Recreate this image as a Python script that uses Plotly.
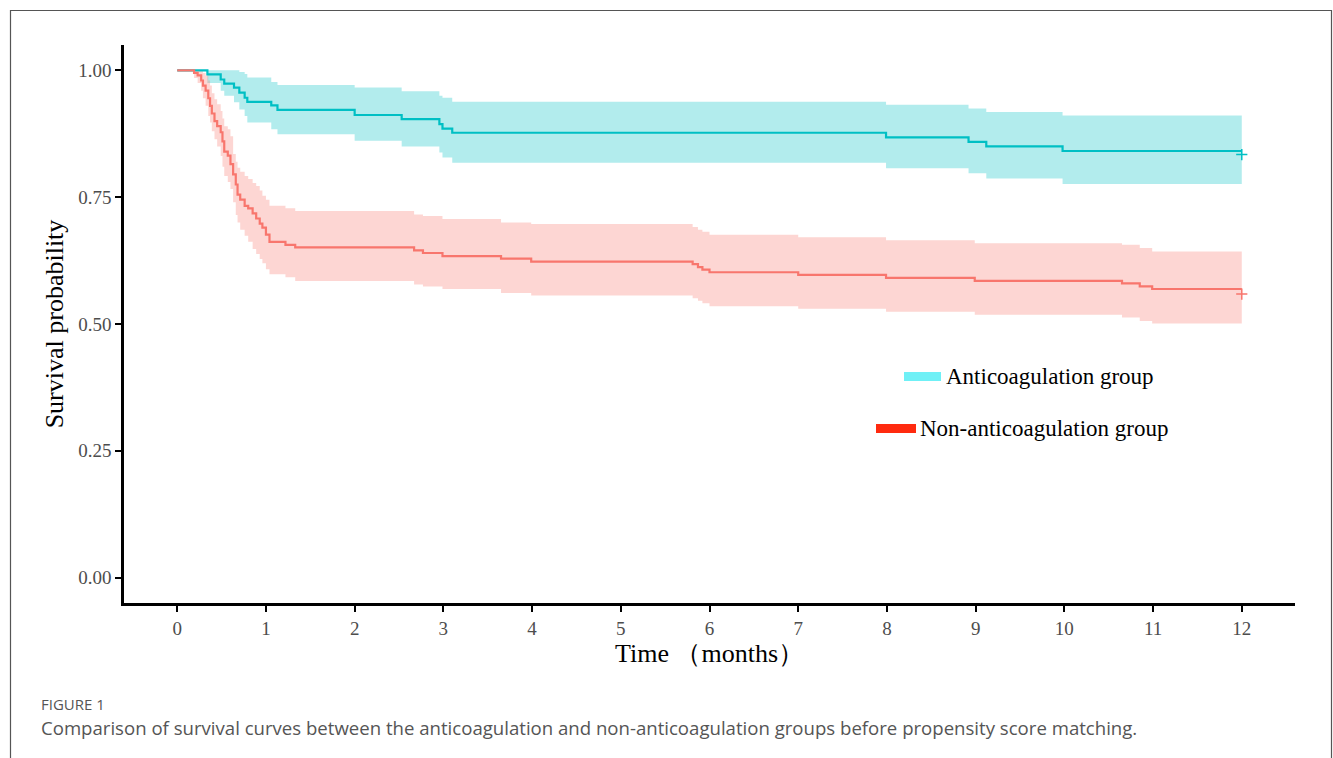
import plotly.graph_objects as go

# ---------------- data ----------------
anti_time = [0, 0.34, 0.49, 0.53, 0.64, 0.70, 0.76, 0.79, 1.06, 1.13, 2.0, 2.53,
             2.955, 2.99, 3.10, 7.99, 8.92, 9.12, 9.98]
anti_surv = [1.0, 0.992, 0.982, 0.974, 0.966, 0.956, 0.946, 0.938, 0.931, 0.922,
             0.912, 0.904, 0.894, 0.885, 0.877, 0.868, 0.859, 0.850, 0.841]
anti_upper = [1.0, 1.0, 1.0, 1.0, 1.0, 0.997, 0.993, 0.986, 0.977, 0.971,
              0.966, 0.959, 0.950, 0.946, 0.938, 0.932, 0.925, 0.918, 0.911]
anti_lower = [1.0, 0.975, 0.960, 0.950, 0.937, 0.923, 0.910, 0.897, 0.884, 0.874,
              0.861, 0.850, 0.838, 0.828, 0.818, 0.807, 0.797, 0.787, 0.776]

non_time = [0, 0.19, 0.23, 0.27, 0.29, 0.32, 0.35, 0.37, 0.39, 0.42,
            0.45, 0.49, 0.51, 0.53, 0.57, 0.60, 0.63, 0.66, 0.68, 0.71,
            0.76, 0.80, 0.85, 0.89, 0.93, 0.96, 1.00, 1.04, 1.22, 1.33,
            2.67, 2.77, 2.99, 3.65, 3.99, 5.81, 5.87, 5.92, 6.00, 7.00,
            7.99, 8.99, 10.65, 10.85, 10.99]
non_surv = [1.0, 0.995, 0.99, 0.98, 0.97, 0.96, 0.945, 0.93, 0.915, 0.90,
            0.89, 0.878, 0.86, 0.84, 0.832, 0.815, 0.795, 0.775, 0.755, 0.745,
            0.733, 0.728, 0.718, 0.708, 0.698, 0.69, 0.676, 0.662, 0.656, 0.651,
            0.645, 0.640, 0.634, 0.629, 0.623, 0.618, 0.612, 0.607, 0.602, 0.597,
            0.591, 0.585, 0.580, 0.574, 0.569]
non_upper = [1.0, 1.0, 1.0, 1.0, 0.995, 0.99, 0.98, 0.97, 0.955, 0.943,
             0.933, 0.92, 0.905, 0.89, 0.884, 0.87, 0.835, 0.82, 0.808, 0.80,
             0.792, 0.786, 0.778, 0.772, 0.763, 0.753, 0.745, 0.733, 0.728, 0.723,
             0.716, 0.713, 0.707, 0.700, 0.697, 0.691, 0.686, 0.682, 0.676, 0.671,
             0.665, 0.659, 0.656, 0.650, 0.643]
non_lower = [1.0, 0.985, 0.975, 0.96, 0.945, 0.93, 0.91, 0.897, 0.88, 0.864,
             0.85, 0.831, 0.81, 0.792, 0.78, 0.766, 0.74, 0.715, 0.70, 0.686,
             0.674, 0.662, 0.648, 0.638, 0.628, 0.62, 0.608, 0.598, 0.592, 0.585,
             0.578, 0.574, 0.569, 0.561, 0.556, 0.551, 0.546, 0.541, 0.535, 0.530,
             0.524, 0.518, 0.513, 0.506, 0.501]

end_time = 12
censor_time = [12, 12]
censor_surv = [0.834, 0.559]

x_ticks = list(range(0, 13))
y_ticks = [0.0, 0.25, 0.5, 0.75, 1.0]
y_tick_labels = ["0.00", "0.25", "0.50", "0.75", "1.00"]

legend_labels = ["Anticoagulation group", "Non-anticoagulation group"]
x_title = "Time \uff08months\uff09"
y_title = "Survival probability"
fig_label = "FIGURE 1"
caption = ("Comparison of survival curves between the anticoagulation and "
           "non-anticoagulation groups before propensity score matching.")

# ---------------- figure ----------------
W, H = 1333, 758
L, R, T, B = 124, 38, 45, 155
PW, PH = W - L - R, H - T - B


def px(x):
    return (x - L) / PW


def py(y):
    return (H - B - y) / PH


def ext(v):
    return v + [v[-1]]


CYAN, CYAN_FILL = "#00BFC4", "rgba(0,191,196,0.30)"
RED, RED_FILL = "#F8766D", "rgba(248,118,109,0.30)"

fig = go.Figure()
for t, s, lo, up, col, fillc in [
    (anti_time, anti_surv, anti_lower, anti_upper, CYAN, CYAN_FILL),
    (non_time, non_surv, non_lower, non_upper, RED, RED_FILL),
]:
    xs = t + [end_time]
    fig.add_trace(go.Scatter(x=xs, y=ext(lo), mode="lines", line=dict(width=0, shape="hv"),
                             showlegend=False, hoverinfo="skip"))
    fig.add_trace(go.Scatter(x=xs, y=ext(up), mode="lines", line=dict(width=0, shape="hv"),
                             fill="tonexty", fillcolor=fillc, showlegend=False, hoverinfo="skip"))
for t, s, col in [(anti_time, anti_surv, CYAN), (non_time, non_surv, RED)]:
    fig.add_trace(go.Scatter(x=t + [end_time], y=ext(s), mode="lines",
                             line=dict(color=col, width=2.2, shape="hv"), showlegend=False))
fig.add_trace(go.Scatter(x=censor_time, y=censor_surv, mode="markers",
                         marker=dict(symbol="cross-thin", size=8,
                                     line=dict(width=1.5, color=[CYAN, RED])),
                         showlegend=False, hoverinfo="skip"))

serif = "Liberation Serif, Times New Roman, serif"
fig.update_xaxes(range=[-0.6, 12.6], tickvals=x_ticks, ticks="outside", ticklen=6,
                 tickwidth=2, tickcolor="black", showline=True, linecolor="black",
                 linewidth=2.5, showgrid=False, zeroline=False,
                 tickfont=dict(family=serif, size=19, color="#4d4d4d"),
                 title=dict(text=x_title, font=dict(family=serif, size=26, color="black"),
                            standoff=1))
fig.update_yaxes(range=[-0.05, 1.05], tickvals=y_ticks, ticktext=y_tick_labels,
                 ticks="outside", ticklen=6, tickwidth=2, tickcolor="black",
                 showline=True, linecolor="black", linewidth=2.5, showgrid=False,
                 zeroline=False, tickfont=dict(family=serif, size=19, color="#4d4d4d"),
                 title=dict(text=y_title, font=dict(family=serif, size=26, color="black"),
                            standoff=8))

shapes = [
    # outer frame
    dict(type="rect", xref="paper", yref="paper", x0=px(10.5), x1=px(1331.5),
         y0=py(790), y1=py(10.5), line=dict(color="#555555", width=1.2)),
    # legend swatches
    dict(type="rect", xref="paper", yref="paper", x0=px(904), x1=px(941),
         y0=py(381), y1=py(372), fillcolor="#6ff0f6", line=dict(width=0)),
    dict(type="rect", xref="paper", yref="paper", x0=px(876), x1=px(916),
         y0=py(433), y1=py(424), fillcolor="#ff2a0f", line=dict(width=0)),
]
annotations = [
    dict(text=legend_labels[0], xref="paper", yref="paper", x=px(944), y=py(376),
         xanchor="left", yanchor="middle", showarrow=False,
         font=dict(family=serif, size=23, color="black")),
    dict(text=legend_labels[1], xref="paper", yref="paper", x=px(918), y=py(428),
         xanchor="left", yanchor="middle", showarrow=False,
         font=dict(family=serif, size=23, color="black")),
    dict(text=fig_label, xref="paper", yref="paper", x=px(39), y=py(704),
         xanchor="left", yanchor="middle", showarrow=False,
         font=dict(family="Open Sans, sans-serif", size=15, color="#555555")),
    dict(text=caption, xref="paper", yref="paper", x=px(39), y=py(727),
         xanchor="left", yanchor="middle", showarrow=False,
         font=dict(family="Open Sans, sans-serif", size=18.6, color="#555555")),
]

fig.update_layout(width=W, height=H, margin=dict(l=L, r=R, t=T, b=B),
                  paper_bgcolor="white", plot_bgcolor="white",
                  shapes=shapes, annotations=annotations, showlegend=False)

fig.write_html("out.html")
